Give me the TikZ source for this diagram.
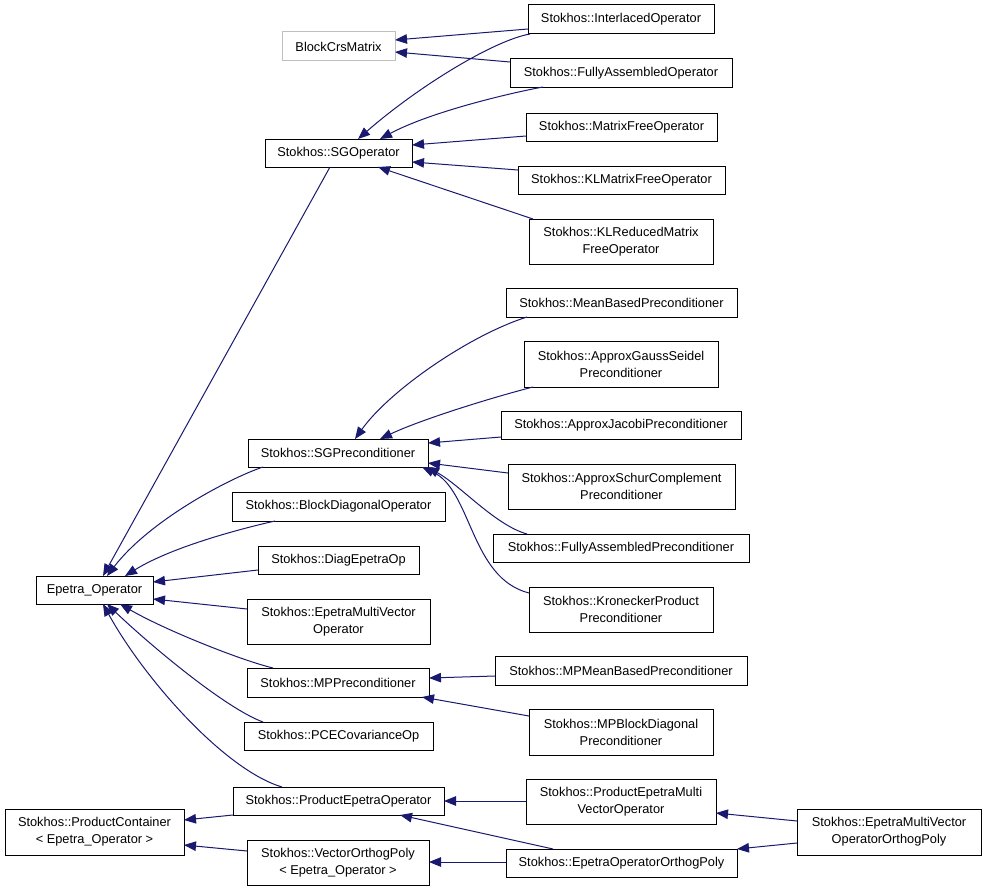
\documentclass[tikz,border=0pt]{standalone}
\usepackage{fontspec}
\setmainfont{Liberation Sans}
\usetikzlibrary{arrows.meta,calc}
\definecolor{edgecol}{HTML}{191970}
\definecolor{graybox}{HTML}{BFBFBF}
\tikzset{
  cls/.style={draw=black, line width=1pt, fill=white, inner sep=0pt, align=center,
    font=\fontsize{12.8}{17}\selectfont},
  ext/.style={cls, draw=graybox},
  inh/.style={draw=edgecol, line width=1pt, -{Triangle[length=12pt,width=9.5pt]}, fill=none},
}
\begin{document}
\begin{tikzpicture}[x=1pt,y=-1pt]
\useasboundingbox[fill=white] (0,0) rectangle (987,891);
% nodes
\node[ext, minimum width=113, minimum height=29] (bcm) at (338.5,46.5) {BlockCrsMatrix};
\node[cls, minimum width=186, minimum height=29] (intl) at (621,19.5) {Stokhos::InterlacedOperator};
\node[cls, minimum width=222, minimum height=28] (fao) at (621,73) {Stokhos::FullyAssembledOperator};
\node[cls, minimum width=147, minimum height=28] (sgop) at (338.5,153) {Stokhos::SGOperator};
\node[cls, minimum width=191, minimum height=28] (mfo) at (621.5,127) {Stokhos::MatrixFreeOperator};
\node[cls, minimum width=207, minimum height=28] (klmf) at (621.5,180) {Stokhos::KLMatrixFreeOperator};
\node[cls, minimum width=184, minimum height=45] (klr) at (621,241.5) {Stokhos::KLReducedMatrix\\FreeOperator};
\node[cls, minimum width=231, minimum height=29] (mbp) at (621.5,302.5) {Stokhos::MeanBasedPreconditioner};
\node[cls, minimum width=194, minimum height=46] (ags) at (621,364) {Stokhos::ApproxGaussSeidel\\Preconditioner};
\node[cls, minimum width=240, minimum height=28] (aj) at (621,425) {Stokhos::ApproxJacobiPreconditioner};
\node[cls, minimum width=227, minimum height=45] (asc) at (621.5,486.5) {Stokhos::ApproxSchurComplement\\Preconditioner};
\node[cls, minimum width=256, minimum height=28] (fap) at (621,548) {Stokhos::FullyAssembledPreconditioner};
\node[cls, minimum width=184, minimum height=45] (kp) at (621,609.5) {Stokhos::KroneckerProduct\\Preconditioner};
\node[cls, minimum width=180, minimum height=28] (sgp) at (338,453) {Stokhos::SGPreconditioner};
\node[cls, minimum width=213, minimum height=29] (bdo) at (338.5,506.5) {Stokhos::BlockDiagonalOperator};
\node[cls, minimum width=161, minimum height=28] (deo) at (338.5,560) {Stokhos::DiagEpetraOp};
\node[cls, minimum width=117, minimum height=28] (eop) at (94.5,590) {Epetra\_Operator};
\node[cls, minimum width=183, minimum height=45] (emvo) at (338.5,621.5) {Stokhos::EpetraMultiVector\\Operator};
\node[cls, minimum width=182, minimum height=29] (mpp) at (338,682.5) {Stokhos::MPPreconditioner};
\node[cls, minimum width=189, minimum height=28] (pce) at (338.5,736) {Stokhos::PCECovarianceOp};
\node[cls, minimum width=211, minimum height=28] (peo) at (338.5,801) {Stokhos::ProductEpetraOperator};
\node[cls, minimum width=179, minimum height=46] (pc) at (94.5,832) {Stokhos::ProductContainer\\< Epetra\_Operator >};
\node[cls, minimum width=182, minimum height=45] (vop) at (338,862.5) {Stokhos::VectorOrthogPoly\\< Epetra\_Operator >};
\node[cls, minimum width=252, minimum height=29] (mpmb) at (621,670.5) {Stokhos::MPMeanBasedPreconditioner};
\node[cls, minimum width=184, minimum height=46] (mpbd) at (621,732) {Stokhos::MPBlockDiagonal\\Preconditioner};
\node[cls, minimum width=190, minimum height=45] (pemvo) at (621,801.5) {Stokhos::ProductEpetraMulti\\VectorOperator};
\node[cls, minimum width=231, minimum height=28] (eoop) at (621.5,863) {Stokhos::EpetraOperatorOrthogPoly};
\node[cls, minimum width=184, minimum height=46] (emvoop) at (889,832) {Stokhos::EpetraMultiVector\\OperatorOrthogPoly};
% edges
\draw[inh] ($(intl)+(-93,9.5)$) -- ($(bcm)+(56.5,-6.5)$);
\draw[inh] ($(fao)+(-111,-11)$) -- ($(bcm)+(56.5,5.5)$);
\draw[inh] ($(intl)+(-91,14.5)$) .. controls +(-35,6) and +(62,-54) .. ($(sgop)+(19.5,-14)$);
\draw[inh] ($(fao)+(-78,14)$) .. controls +(-33,6) and +(50,-27) .. ($(sgop)+(41.5,-14)$);
\draw[inh] ($(mfo)+(-95.5,9)$) -- ($(sgop)+(73.5,-8)$);
\draw[inh] ($(klmf)+(-103.5,-10)$) -- ($(sgop)+(73.5,9)$);
\draw[inh] ($(klr)+(-88,-22.5)$) -- ($(sgop)+(39.5,14)$);
\draw[inh] ($(sgop)+(-8.5,14)$) -- ($(eop)+(8.5,-14)$);
\draw[inh] ($(mbp)+(-94.5,14.5)$) .. controls +(-57,18) and +(35,-49) .. ($(sgp)+(17,-14)$);
\draw[inh] ($(ags)+(-88,23)$) .. controls +(-43,11) and +(40,-19) .. ($(sgp)+(42,-14)$);
\draw[inh] ($(aj)+(-120,12)$) -- ($(sgp)+(90,-10)$);
\draw[inh] ($(asc)+(-113.5,-13.5)$) -- ($(sgp)+(90,10)$);
\draw[inh] ($(fap)+(-94,-14)$) .. controls +(-32,-9) and +(33,18) .. ($(sgp)+(89,14)$);
\draw[inh] ($(kp)+(-92,-16.5)$) .. controls +(-59,-15) and +(50,23) .. ($(sgp)+(84,14)$);
\draw[inh] ($(sgp)+(-75,14)$) .. controls +(-33,11) and +(43,-56) .. ($(eop)+(12.5,-14)$);
\draw[inh] ($(bdo)+(-63.5,14.5)$) .. controls +(-40,9) and +(45,-28) .. ($(eop)+(30.5,-14)$);
\draw[inh] ($(deo)+(-80.5,10)$) -- ($(eop)+(58.5,-8)$);
\draw[inh] ($(emvo)+(-91.5,-12.5)$) -- ($(eop)+(58.5,9)$);
\draw[inh] ($(mpp)+(-65,-14.5)$) .. controls +(-33,-8) and +(45,26) .. ($(eop)+(25.5,14)$);
\draw[inh] ($(pce)+(-75.5,-14)$) .. controls +(-38,-14) and +(43,41) .. ($(eop)+(12.5,14)$);
\draw[inh] ($(peo)+(-56.5,-14)$) .. controls +(-57,-17) and +(42,76) .. ($(eop)+(8.5,14)$);
\draw[inh] ($(mpmb)+(-126,5.5)$) -- ($(mpp)+(91,-4.5)$);
\draw[inh] ($(mpbd)+(-92,-16)$) -- ($(mpp)+(84,14.5)$);
\draw[inh] ($(peo)+(-105.5,14)$) -- ($(pc)+(89.5,-12)$);
\draw[inh] ($(vop)+(-91,-11.5)$) -- ($(pc)+(89.5,13)$);
\draw[inh] ($(pemvo)+(-95,-0.5)$) -- ($(peo)+(105.5,0)$);
\draw[inh] ($(eoop)+(-68.5,-14)$) -- ($(peo)+(61.5,14)$);
\draw[inh] ($(eoop)+(-115.5,-1)$) -- ($(vop)+(91,-0.5)$);
\draw[inh] ($(emvoop)+(-92,-11)$) -- ($(pemvo)+(95,11.5)$);
\draw[inh] ($(emvoop)+(-92,11)$) -- ($(eoop)+(115.5,-14)$);
\end{tikzpicture}
\end{document}
